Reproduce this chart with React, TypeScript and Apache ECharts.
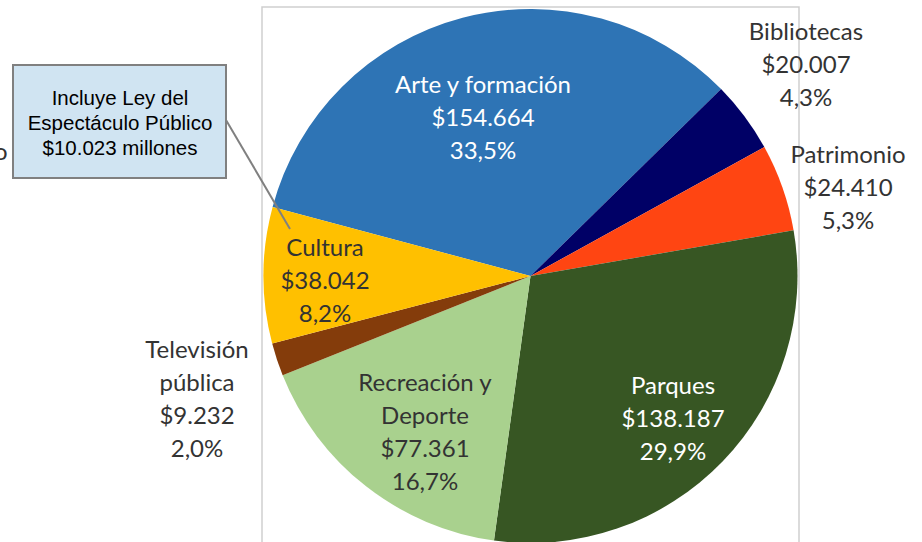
import React, { useEffect, useRef } from "react";
import * as echarts from "echarts";

const categories = [
  "Arte y formación",
  "Bibliotecas",
  "Patrimonio",
  "Parques",
  "Recreación y\nDeporte",
  "Televisión\npública",
  "Cultura",
];
const values = [154664, 20007, 24410, 138187, 77361, 9232, 38042];
const colors = ["#2E74B5", "#000066", "#FF4512", "#375623", "#A9D18E", "#843C0B", "#FFC000"];
const labelColors = ["#FFFFFF", "#333333", "#333333", "#FFFFFF", "#333333", "#333333", "#333333"];
// label centre positions (px) per slice
const labelPos: [number, number][] = [
  [483, 116],
  [806, 63],
  [848, 186],
  [673, 417],
  [425, 431],
  [197, 398],
  [325, 279],
];
const calloutLines = ["Incluye Ley del", "Espectáculo Público", "$10.023 millones"];

const fmt = (v: number) => v.toString().replace(/\B(?=(\d{3})+(?!\d))/g, ".");

export default function App() {
  const ref = useRef<HTMLDivElement>(null);
  useEffect(() => {
    if (!ref.current) return;
    const chart = echarts.init(ref.current, undefined, { renderer: "svg" });
    const total = values.reduce((a, b) => a + b, 0);
    const font = "Lato, 'Open Sans', sans-serif";
    chart.setOption({
      animation: false,
      backgroundColor: "#FFFFFF",
      graphic: [
        {
          type: "rect",
          z: -10,
          shape: { x: 262, y: 7, width: 537, height: 560 },
          style: { fill: "none", stroke: "#CFCFCF", lineWidth: 1.5 },
        },
        {
          type: "rect",
          z: 10,
          shape: { x: 13, y: 65, width: 213, height: 113 },
          style: { fill: "#D0E4F2", stroke: "#808080", lineWidth: 2 },
        },
        {
          type: "line",
          z: 10,
          shape: { x1: 226, y1: 120, x2: 290, y2: 229 },
          style: { stroke: "#808080", lineWidth: 2 },
        },
        ...calloutLines.map((t, i) => ({
          type: "text",
          z: 11,
          x: 120,
          y: 97 + i * 25,
          style: {
            text: t,
            fill: "#000000",
            font: "20.5px 'Liberation Sans', Arial, sans-serif",
            align: "center",
            verticalAlign: "middle",
          },
        })),
        {
          type: "text",
          x: -6,
          y: 150,
          style: {
            text: "o",
            fill: "#333333",
            font: "24px " + font,
            verticalAlign: "middle",
          },
        },
      ],
      series: [
        {
          type: "pie",
          center: [530.5, 276],
          radius: 267,
          startAngle: 165,
          clockwise: true,
          avoidLabelOverlap: false,
          itemStyle: { borderWidth: 0 },
          emphasis: { disabled: true },
          labelLine: { show: false },
          label: {
            show: true,
            position: "inside",
            fontFamily: font,
            fontSize: 24,
            lineHeight: 33,
            align: "center",
            formatter: (p: any) =>
              p.name + "\n$" + fmt(p.value) + "\n" + ((p.value / total) * 100).toFixed(1).replace(".", ",") + "%",
          },
          labelLayout: (p: any) => ({
            x: labelPos[p.dataIndex][0],
            y: labelPos[p.dataIndex][1],
            align: "center",
            verticalAlign: "middle",
          }),
          data: categories.map((c, i) => ({
            name: c,
            value: values[i],
            itemStyle: { color: colors[i] },
            label: { color: labelColors[i] },
          })),
        },
      ],
    });
    return () => chart.dispose();
  }, []);
  return (
    <div
      ref={ref}
      style={{ position: "fixed", left: 0, top: 0, width: 922, height: 542 }}
    />
  );
}
